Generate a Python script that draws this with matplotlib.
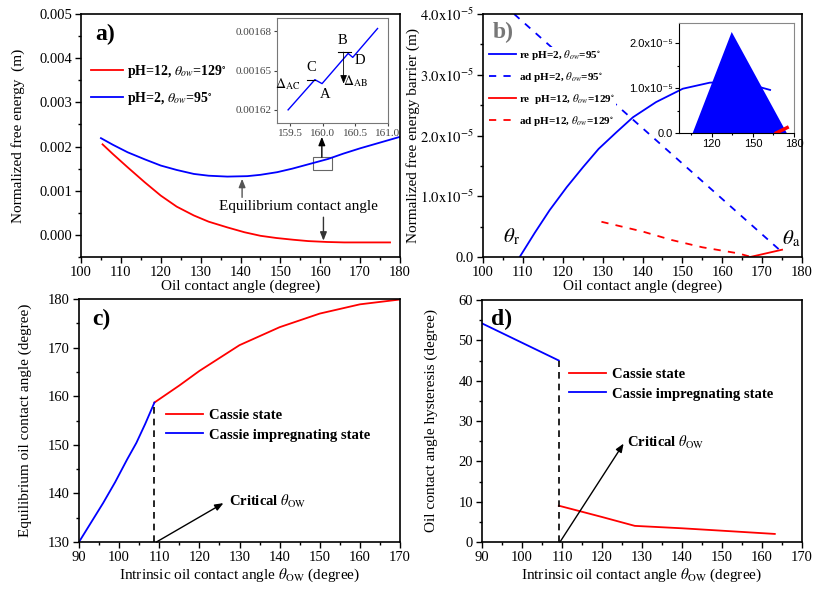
import matplotlib
matplotlib.use("Agg")
import matplotlib.pyplot as plt
from matplotlib.ticker import MultipleLocator, FixedLocator, FixedFormatter

plt.rcParams["font.family"] = ["Liberation Serif", "DejaVu Serif"]
plt.rcParams["mathtext.fontset"] = "stix"

# ==========================================
# DATA
# ==========================================
# a) normalized free energy vs oil contact angle
a_red_x = [105.4, 108, 111.7, 116, 120, 124, 128.3, 132, 136.7, 141, 145, 149,
           153.3, 157, 161.7, 166, 170, 174, 177.5]
a_red_y = [2.05e-3, 1.83e-3, 1.53e-3, 1.19e-3, 0.89e-3, 0.64e-3, 0.44e-3, 0.30e-3,
           0.17e-3, 0.06e-3, -0.02e-3, -0.07e-3, -0.11e-3, -0.14e-3, -0.16e-3,
           -0.17e-3, -0.17e-3, -0.17e-3, -0.17e-3]
a_blue_x = [105, 108, 111.7, 116, 120, 124, 128.3, 132, 136.7, 141.7, 145, 149.2,
            153, 157.5, 162, 165.8, 170, 175, 180]
a_blue_y = [2.19e-3, 2.04e-3, 1.87e-3, 1.71e-3, 1.57e-3, 1.47e-3, 1.38e-3, 1.34e-3,
            1.32e-3, 1.33e-3, 1.36e-3, 1.42e-3, 1.50e-3, 1.61e-3, 1.72e-3, 1.84e-3,
            1.96e-3, 2.09e-3, 2.22e-3]
a_yticks = [0.000, 0.001, 0.002, 0.003, 0.004, 0.005]
a_ytick_labels = ["0.000", "0.001", "0.002", "0.003", "0.004", "0.005"]
# zoomed inset of a)
ins_a_x = [159.47, 159.88, 159.99, 160.39, 160.46, 160.84]
ins_a_y = [0.001620, 0.001643, 0.001640, 0.001663, 0.001660, 0.001682]

# b) free energy barrier
b_re2_x = [109.2, 113, 116.7, 121, 125.1, 129, 133.4, 137.6, 143.4, 150.1, 156.9,
           162, 167, 172]
b_re2_y = [0, 0.40e-5, 0.77e-5, 1.15e-5, 1.48e-5, 1.78e-5, 2.05e-5, 2.30e-5,
           2.55e-5, 2.77e-5, 2.87e-5, 2.88e-5, 2.84e-5, 2.75e-5]
b_ad2_x = [107.8, 175]
b_ad2_y = [4.0e-5, 0.08e-5]
b_re12_x = [167, 175]
b_re12_y = [0, 0.12e-5]
b_ad12_x = [129.7, 140, 147.3, 155, 164, 167.3]
b_ad12_y = [0.58e-5, 0.42e-5, 0.28e-5, 0.16e-5, 0.06e-5, 0.0]
b_yticks = [0, 1e-5, 2e-5, 3e-5, 4e-5]
b_ytick_labels = ["0.0", r"$1.0\mathrm{x}10^{-5}$", r"$2.0\mathrm{x}10^{-5}$",
                  r"$3.0\mathrm{x}10^{-5}$", r"$4.0\mathrm{x}10^{-5}$"]
# inset of b)
ins_b_x = [106, 134.5, 174.7]
ins_b_y = [0, 2.25e-5, 0]
ins_b_yticks = [0, 1e-5, 2e-5]
ins_b_ytick_labels = ["0.0", "1.0x10\u207b\u2075", "2.0x10\u207b\u2075"]

# c) equilibrium oil contact angle
c_blue_x = [90, 93, 96, 99, 102, 104.3, 106.5, 108.8]
c_blue_y = [130, 134, 138, 142.3, 147, 150.4, 154.3, 158.7]
c_red_x = [108.8, 115, 120, 130, 140, 150, 160, 170]
c_red_y = [158.7, 162.2, 165.2, 170.5, 174.2, 177, 178.9, 179.9]
c_crit = 108.8

# d) hysteresis
d_blue_x = [90, 109.2]
d_blue_y = [54.2, 45.0]
d_red_x = [109.2, 115, 120, 128.2, 140, 150, 163.2]
d_red_y = [9.0, 7.5, 6.2, 4.0, 3.4, 2.8, 2.0]
d_crit = 109.2

RED = "#ff0000"
BLUE = "#0000ff"
W, H = 814, 591


def box(l, t, r, b):
    # pixel box -> figure fraction
    return [l / W, 1 - b / H, (r - l) / W, (b - t) / H]


def style(ax, fs=10.5):
    for s in ax.spines.values():
        s.set_linewidth(1.2)
    ax.tick_params(which="both", direction="out", top=False, right=False,
                   labelsize=fs, width=1, pad=2.5)
    ax.tick_params(which="major", length=4)
    ax.tick_params(which="minor", length=2.5)


def arrow(ax, x0, y0, x1, y1, color="black", lw=1.0):
    ax.annotate("", xy=(x1, y1), xytext=(x0, y0),
                arrowprops=dict(arrowstyle="-|>,head_length=0.5,head_width=0.2",
                                color=color, lw=lw, shrinkA=0, shrinkB=0))


def legend(ax, anchor, size, hl, htp, ls):
    leg = ax.legend(loc="upper left", bbox_to_anchor=anchor, frameon=True,
                    prop={"weight": "bold", "size": size}, handlelength=hl,
                    handletextpad=htp, labelspacing=ls, borderpad=0.1,
                    borderaxespad=0, fancybox=False)
    leg.get_frame().set_edgecolor("none")
    leg.get_frame().set_facecolor("white")
    leg.get_frame().set_alpha(1)
    return leg


fig = plt.figure(figsize=(W / 100, H / 100), dpi=100)

# ---------------- a) ----------------
ax = fig.add_axes(box(81, 14, 400, 257))
ax.plot(a_red_x, a_red_y, color=RED, lw=1.3, label=r"pH=12, $\theta_{ow}$=129$^{\circ}$")
ax.plot(a_blue_x, a_blue_y, color=BLUE, lw=1.3, label=r"pH=2, $\theta_{ow}$=95$^{\circ}$")
ax.set_xlim(100, 180)
ax.set_ylim(-0.0005, 0.005)
ax.xaxis.set_major_locator(MultipleLocator(10))
ax.xaxis.set_minor_locator(MultipleLocator(5))
ax.yaxis.set_major_locator(FixedLocator(a_yticks))
ax.yaxis.set_major_formatter(FixedFormatter(a_ytick_labels))
ax.yaxis.set_minor_locator(MultipleLocator(0.0005))
style(ax)
ax.set_xlabel("Oil contact angle (degree)", fontsize=11)
ax.set_ylabel("Normalized free energy  (m)", fontsize=11)
ax.xaxis.set_label_coords(0.5, -0.094)
ax.yaxis.set_label_coords(-0.176, 0.5)
ax.text(0.044, 0.914, "a)", transform=ax.transAxes, fontsize=17, fontweight="bold", va="center")
legend(ax, (0.026, 0.805), 10, 2.3, 0.3, 0.75)
ax.text(154.6, 0.00064, "Equilibrium contact angle", fontsize=11, ha="center", va="center")
arrow(ax, 140.4, 0.00085, 140.4, 0.00127, color="#555555")
arrow(ax, 160.8, 0.00040, 160.8, -0.00013, color="#333333")
ax.add_patch(plt.Rectangle((158.3, 0.00147), 4.6, 0.00029, fill=False, ec="#666666", lw=0.8))
arrow(ax, 160.4, 0.00176, 160.4, 0.00222)

ia = fig.add_axes(box(277, 18, 388, 123))
ia.plot(ins_a_x, ins_a_y, color=BLUE, lw=1.0)
ia.set_xlim(159.3, 161.0)
ia.set_ylim(0.00161, 0.00169)
ia.xaxis.set_major_locator(FixedLocator([159.5, 160.0, 160.5, 161.0]))
ia.xaxis.set_major_formatter(FixedFormatter(["159.5", "160.0", "160.5", "161.0"]))
ia.yaxis.set_major_locator(FixedLocator([0.00162, 0.00165, 0.00168]))
ia.yaxis.set_major_formatter(FixedFormatter(["0.00162", "0.00165", "0.00168"]))
for s in ia.spines.values():
    s.set_color("#777777")
    s.set_linewidth(0.8)
ia.tick_params(direction="out", length=2.5, width=0.8, labelsize=8, pad=1.5,
               top=False, right=False, colors="#444444")
ia.plot([159.76, 159.88], [0.001643, 0.001643], color="black", lw=0.8)
ia.plot([160.23, 160.43], [0.001664, 0.001664], color="black", lw=0.8)
arrow(ia, 160.32, 0.001664, 160.32, 0.001640, lw=0.6)
ia.text(159.47, 0.00164, r"$\Delta_{\mathrm{AC}}$", fontsize=10, ha="center", va="center")
ia.text(159.83, 0.001652, "C", fontsize=10.5, ha="center", va="center")
ia.text(160.04, 0.001632, "A", fontsize=10.5, ha="center", va="center")
ia.text(160.30, 0.001673, "B", fontsize=10.5, ha="center", va="center")
ia.text(160.57, 0.001658, "D", fontsize=10.5, ha="center", va="center")
ia.text(160.50, 0.001642, r"$\Delta_{\mathrm{AB}}$", fontsize=10, ha="center", va="center")

# ---------------- b) ----------------
ax = fig.add_axes(box(483, 14, 802, 257))
ax.plot(b_re2_x, b_re2_y, color=BLUE, lw=1.3, label=r"re pH=2, $\theta_{ow}$=95$^{\circ}$")
ax.plot(b_ad2_x, b_ad2_y, color=BLUE, lw=1.3, ls=(0, (4, 4)), label=r"ad pH=2, $\theta_{ow}$=95$^{\circ}$")
ax.plot(b_re12_x, b_re12_y, color=RED, lw=1.3, label=r"re  pH=12, $\theta_{ow}$=129$^{\circ}$")
ax.plot(b_ad12_x, b_ad12_y, color=RED, lw=1.3, ls=(0, (4, 4)), label=r"ad pH=12, $\theta_{ow}$=129$^{\circ}$")
ax.set_xlim(100, 180)
ax.set_ylim(0, 4e-5)
ax.xaxis.set_major_locator(MultipleLocator(10))
ax.xaxis.set_minor_locator(MultipleLocator(5))
ax.yaxis.set_major_locator(FixedLocator(b_yticks))
ax.yaxis.set_major_formatter(FixedFormatter(b_ytick_labels))
ax.yaxis.set_minor_locator(MultipleLocator(0.5e-5))
style(ax)
ax.set_xlabel("Oil contact angle (degree)", fontsize=11)
ax.set_ylabel("Normalized free energy barrier (m)", fontsize=11)
ax.xaxis.set_label_coords(0.5, -0.094)
ax.yaxis.set_label_coords(-0.197, 0.5)
ax.text(0.031, 0.926, "b)", transform=ax.transAxes, fontsize=17, fontweight="bold",
        va="center", color="#777777")
legend(ax, (0.014, 0.865), 8, 2.5, 0.25, 0.72)
ax.text(107.2, 0.33e-5, r"$\theta_{\mathrm{r}}$", fontsize=15, ha="center", va="center")
ax.text(177.4, 0.30e-5, r"$\theta_{\mathrm{a}}$", fontsize=15, ha="center", va="center")

ib = fig.add_axes(box(679, 23, 794, 133))
ib.patch.set_alpha(0)
ib.fill(ins_b_x, ins_b_y, color=BLUE, lw=0)
ib.plot(b_re12_x, b_re12_y, color=RED, lw=2.5)
ib.set_xlim(96, 180)
ib.set_ylim(0, 2.45e-5)
ib.xaxis.set_major_locator(FixedLocator([120, 150, 180]))
ib.xaxis.set_minor_locator(MultipleLocator(15))
ib.yaxis.set_major_locator(FixedLocator(ins_b_yticks))
ib.yaxis.set_major_formatter(FixedFormatter(ins_b_ytick_labels))
ib.yaxis.set_minor_locator(MultipleLocator(0.5e-5))
for s in ib.spines.values():
    s.set_linewidth(0.8)
ib.spines["top"].set_color("#888888")
ib.spines["right"].set_color("#888888")
ib.tick_params(which="both", direction="out", width=0.8, labelsize=8, pad=1.5,
               top=False, right=False)
ib.tick_params(which="major", length=3)
ib.tick_params(which="minor", length=1.5)
for lab in ib.get_xticklabels() + ib.get_yticklabels():
    lab.set_family(["Liberation Sans", "DejaVu Sans"])

# ---------------- c) ----------------
ax = fig.add_axes(box(79, 299, 400, 542))
ax.plot(c_red_x, c_red_y, color=RED, lw=1.3, label="Cassie state")
ax.plot(c_blue_x, c_blue_y, color=BLUE, lw=1.3, label="Cassie impregnating state")
ax.plot([c_crit, c_crit], [130, c_blue_y[-1]], color="black", lw=1.2, ls=(0, (4, 3)))
arrow(ax, c_crit + 0.5, 130, 126, 138)
ax.text(127.5, 138.3, r"Critical $\theta_{\mathrm{OW}}$", fontsize=10.5, fontweight="bold", va="center")
ax.set_xlim(90, 170)
ax.set_ylim(130, 180)
ax.xaxis.set_major_locator(MultipleLocator(10))
ax.xaxis.set_minor_locator(MultipleLocator(5))
ax.yaxis.set_major_locator(MultipleLocator(10))
ax.yaxis.set_minor_locator(MultipleLocator(5))
style(ax)
ax.set_xlabel(r"Intrinsic oil contact angle $\theta_{\mathrm{OW}}$ (degree)", fontsize=11)
ax.set_ylabel("Equilibrium oil contact angle (degree)", fontsize=11)
ax.xaxis.set_label_coords(0.5, -0.103)
ax.yaxis.set_label_coords(-0.146, 0.5)
ax.text(0.04, 0.914, "c)", transform=ax.transAxes, fontsize=17, fontweight="bold", va="center")
legend(ax, (0.265, 0.555), 10.5, 2.6, 0.35, 0.45)

# ---------------- d) ----------------
ax = fig.add_axes(box(482, 300, 802, 542))
ax.plot(d_red_x, d_red_y, color=RED, lw=1.3, label="Cassie state")
ax.plot(d_blue_x, d_blue_y, color=BLUE, lw=1.3, label="Cassie impregnating state")
ax.plot([d_crit, d_crit], [0, d_blue_y[-1]], color="black", lw=1.2, ls=(0, (4, 3)))
arrow(ax, d_crit + 0.3, 0, 125.4, 24.4)
ax.text(126.2, 24.6, r"Critical $\theta_{\mathrm{OW}}$", fontsize=10.5, fontweight="bold", va="center")
ax.set_xlim(90, 170)
ax.set_ylim(0, 60)
ax.xaxis.set_major_locator(MultipleLocator(10))
ax.xaxis.set_minor_locator(MultipleLocator(5))
ax.yaxis.set_major_locator(MultipleLocator(10))
ax.yaxis.set_minor_locator(MultipleLocator(5))
style(ax)
ax.set_xlabel(r"Intrinsic oil contact angle $\theta_{\mathrm{OW}}$ (degree)", fontsize=11)
ax.set_ylabel("Oil contact angle hysteresis (degree)", fontsize=11)
ax.xaxis.set_label_coords(0.5, -0.103)
ax.yaxis.set_label_coords(-0.1375, 0.5)
ax.text(0.028, 0.921, "d)", transform=ax.transAxes, fontsize=17, fontweight="bold", va="center")
legend(ax, (0.266, 0.727), 10.5, 2.6, 0.35, 0.45)

fig.savefig("out.png", dpi=100)
